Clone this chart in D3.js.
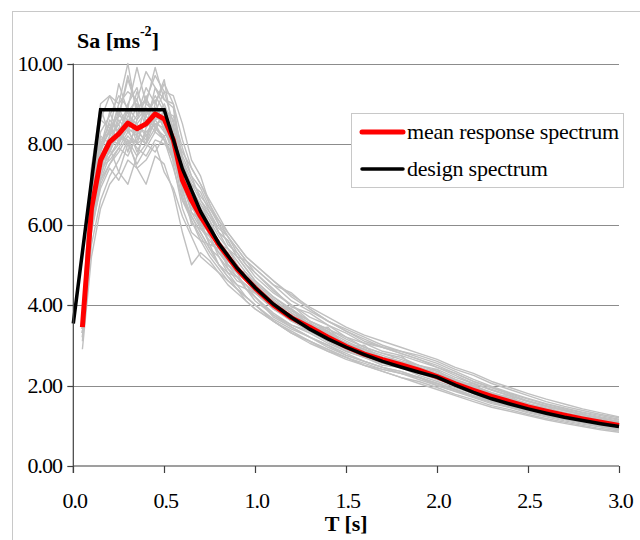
<!DOCTYPE html>

<head>
    <meta charset="utf-8">
    <script src="https://d3js.org/d3.v7.min.js"></script>
    <style>
        body {
            margin: 0;
        }

        .tick-label {
            font-size: 22px;
            letter-spacing: -1px;
        }

        .axis-title {
            font-size: 22px;
            font-weight: bold;
        }

        .legend-label {
            font-size: 22px;
            letter-spacing: -0.2px;
        }
    </style>
</head>

<body>
    <script>
        var width = 640,
            height = 540;
        var serif = "Liberation Serif";

        // periods [s] at which the records and the mean were sampled
        var periods = [0.05, 0.1, 0.15, 0.2, 0.25, 0.3, 0.35, 0.4, 0.45, 0.5, 0.55, 0.6, 0.65, 0.7, 0.75,
            0.8, 0.85, 0.9, 0.95, 1.0, 1.1, 1.2, 1.3, 1.4, 1.5, 1.6, 1.7, 1.8, 1.9, 2.0,
            2.1, 2.2, 2.3, 2.4, 2.5, 2.6, 2.7, 2.8, 2.9, 3.0];

        var meanSa = [3.45, 6.4, 7.6, 8.05, 8.25, 8.52, 8.38, 8.5, 8.75, 8.62, 8.1, 7.1, 6.6, 6.2, 5.85,
            5.5, 5.2, 4.9, 4.65, 4.42, 4.0, 3.68, 3.45, 3.2, 2.97, 2.78, 2.64, 2.52, 2.38, 2.22,
            2.04, 1.88, 1.73, 1.6, 1.47, 1.36, 1.26, 1.17, 1.09, 1.01];

        var designT = [0, 0.15, 0.5, 0.6, 0.7, 0.8, 0.9, 1.0, 1.1, 1.2, 1.3, 1.4, 1.5, 1.6, 1.7, 1.8, 1.9, 2.0,
            2.1, 2.2, 2.3, 2.4, 2.5, 2.6, 2.7, 2.8, 2.9, 3.0];
        var designSa = [3.54, 8.85, 8.85, 7.38, 6.32, 5.53, 4.92, 4.43, 4.02, 3.69, 3.40, 3.16, 2.95, 2.77, 2.60,
            2.46, 2.33, 2.21, 2.01, 1.83, 1.67, 1.54, 1.42, 1.31, 1.21, 1.13, 1.05, 0.98];

        // spectra of the individual accelerograms (grey)
        var records = [
            [3.6, 7.4, 8.6, 9.2, 8.7, 9.6, 8.9, 9.1, 9.7, 9.3, 8.5, 7.3, 6.5, 5.9, 5.7, 5.2, 4.9, 4.7, 4.4, 4.2, 3.7, 3.45, 3.2, 3.0, 2.75, 2.6, 2.45, 2.3, 2.2, 2.0, 1.85, 1.7, 1.55, 1.45, 1.32, 1.22, 1.12, 1.04, 0.97, 0.9],
            [3.3, 5.8, 7.0, 7.5, 7.9, 7.7, 8.2, 8.0, 8.4, 8.8, 8.7, 7.9, 7.2, 6.9, 6.4, 6.1, 5.7, 5.4, 5.1, 4.9, 4.5, 4.1, 3.85, 3.6, 3.35, 3.15, 2.95, 2.85, 2.7, 2.55, 2.35, 2.15, 1.98, 1.82, 1.68, 1.55, 1.44, 1.34, 1.25, 1.16],
            [3.5, 6.9, 8.9, 8.2, 9.0, 10.0, 8.7, 9.4, 9.0, 9.6, 8.2, 6.7, 6.1, 5.6, 5.5, 5.0, 4.8, 4.5, 4.4, 4.1, 3.75, 3.5, 3.3, 3.05, 2.85, 2.7, 2.5, 2.45, 2.25, 2.1, 1.95, 1.8, 1.62, 1.5, 1.4, 1.28, 1.18, 1.1, 1.02, 0.95],
            [3.2, 6.0, 7.2, 7.9, 7.3, 8.0, 7.5, 7.9, 8.3, 8.1, 7.6, 7.0, 6.8, 6.5, 6.2, 5.8, 5.6, 5.2, 5.1, 4.8, 4.4, 3.95, 3.8, 3.5, 3.3, 3.05, 2.95, 2.8, 2.65, 2.45, 2.3, 2.1, 1.95, 1.78, 1.62, 1.5, 1.4, 1.28, 1.2, 1.1],
            [3.7, 6.6, 7.8, 8.6, 8.3, 8.5, 9.3, 8.7, 9.1, 8.3, 7.9, 7.2, 6.3, 6.1, 5.5, 5.4, 5.3, 4.8, 4.4, 4.3, 4.05, 3.6, 3.55, 3.15, 3.05, 2.75, 2.7, 2.45, 2.4, 2.15, 2.05, 1.85, 1.78, 1.58, 1.5, 1.34, 1.3, 1.15, 1.12, 1.0],
            [3.4, 6.3, 7.5, 7.8, 8.4, 8.0, 8.1, 8.6, 8.3, 8.9, 8.6, 7.6, 7.1, 6.7, 6.4, 6.0, 5.5, 5.3, 5.0, 4.8, 4.35, 4.0, 3.7, 3.5, 3.2, 3.05, 2.85, 2.75, 2.6, 2.45, 2.25, 2.05, 1.9, 1.75, 1.6, 1.48, 1.38, 1.28, 1.18, 1.1],
            [3.5, 6.8, 8.1, 8.3, 9.5, 8.8, 9.1, 8.4, 9.4, 8.9, 7.5, 6.4, 5.8, 5.6, 5.2, 4.9, 4.6, 4.4, 4.2, 4.0, 3.6, 3.35, 3.1, 2.9, 2.7, 2.5, 2.4, 2.3, 2.15, 2.0, 1.86, 1.72, 1.58, 1.46, 1.35, 1.25, 1.16, 1.08, 1.0, 0.93],
            [3.3, 6.0, 7.1, 7.5, 7.8, 8.2, 7.9, 7.7, 8.1, 8.0, 7.8, 7.4, 7.0, 6.6, 6.3, 5.8, 5.6, 5.2, 4.9, 4.6, 4.2, 3.9, 3.6, 3.4, 3.15, 2.95, 2.8, 2.7, 2.5, 2.4, 2.2, 2.05, 1.88, 1.74, 1.6, 1.48, 1.37, 1.27, 1.18, 1.1],
            [3.6, 7.0, 7.9, 8.8, 8.2, 8.9, 8.2, 9.0, 9.9, 9.1, 8.9, 7.3, 6.5, 6.0, 5.5, 5.5, 4.9, 4.6, 4.5, 4.2, 3.8, 3.5, 3.35, 3.1, 2.85, 2.7, 2.55, 2.45, 2.3, 2.15, 1.98, 1.8, 1.66, 1.55, 1.42, 1.32, 1.22, 1.13, 1.05, 0.98],
            [3.4, 6.2, 7.4, 7.7, 8.1, 8.4, 7.8, 8.3, 8.5, 8.4, 8.0, 7.0, 6.5, 6.3, 5.9, 5.5, 5.2, 5.0, 4.7, 4.5, 4.1, 3.8, 3.5, 3.25, 3.05, 2.85, 2.7, 2.6, 2.45, 2.3, 2.1, 1.95, 1.8, 1.66, 1.52, 1.4, 1.3, 1.2, 1.12, 1.04],
            [3.5, 6.5, 7.7, 8.0, 8.7, 8.6, 8.5, 8.8, 8.6, 8.7, 7.8, 6.9, 6.0, 5.9, 5.7, 5.3, 5.1, 4.9, 4.6, 4.3, 3.9, 3.65, 3.5, 3.3, 3.0, 2.8, 2.6, 2.45, 2.35, 2.2, 2.0, 1.85, 1.7, 1.58, 1.45, 1.35, 1.24, 1.15, 1.08, 1.0],
            [2.9, 5.2, 6.4, 7.0, 7.3, 7.0, 7.7, 8.0, 7.8, 8.2, 8.3, 7.8, 7.4, 7.0, 6.5, 6.1, 5.8, 5.5, 5.2, 5.0, 4.6, 4.25, 3.95, 3.7, 3.45, 3.25, 3.1, 2.95, 2.8, 2.65, 2.45, 2.3, 2.1, 1.95, 1.8, 1.66, 1.54, 1.42, 1.32, 1.22],
            [3.6, 6.7, 8.0, 8.5, 8.0, 9.0, 9.4, 8.5, 8.9, 8.6, 8.1, 6.8, 6.2, 5.8, 5.4, 5.2, 4.8, 4.7, 4.4, 4.2, 3.75, 3.45, 3.2, 3.0, 2.8, 2.6, 2.45, 2.35, 2.2, 2.05, 1.9, 1.74, 1.6, 1.48, 1.36, 1.26, 1.16, 1.08, 1.0, 0.92],
            [3.4, 6.4, 7.6, 8.1, 8.5, 7.8, 8.6, 9.2, 8.4, 8.1, 7.7, 7.1, 6.8, 6.4, 6.0, 5.5, 5.3, 4.9, 4.7, 4.5, 4.05, 3.9, 3.5, 3.35, 3.0, 2.9, 2.65, 2.6, 2.4, 2.3, 2.05, 1.95, 1.75, 1.65, 1.5, 1.42, 1.3, 1.22, 1.12, 1.05],
            [3.5, 6.6, 7.3, 8.2, 8.8, 8.3, 8.4, 8.0, 9.0, 9.5, 9.0, 7.6, 6.9, 6.3, 5.9, 5.5, 5.1, 4.8, 4.6, 4.4, 4.0, 3.7, 3.4, 3.2, 3.0, 2.8, 2.65, 2.5, 2.35, 2.2, 2.05, 1.88, 1.72, 1.6, 1.46, 1.35, 1.25, 1.16, 1.08, 1.0],
            [3.3, 6.1, 7.4, 7.6, 7.9, 8.3, 8.0, 8.2, 8.5, 8.1, 7.4, 6.6, 6.2, 5.8, 5.4, 5.0, 4.7, 4.4, 4.1, 3.9, 3.6, 3.3, 3.05, 2.85, 2.65, 2.5, 2.35, 2.2, 2.05, 1.9, 1.75, 1.6, 1.46, 1.36, 1.25, 1.15, 1.06, 0.98, 0.9, 0.84],
            [3.6, 7.1, 8.6, 8.4, 8.7, 9.7, 8.9, 8.7, 9.2, 8.8, 8.2, 7.0, 6.3, 5.9, 5.6, 5.3, 5.0, 4.7, 4.5, 4.3, 3.9, 3.6, 3.35, 3.1, 2.9, 2.7, 2.6, 2.5, 2.4, 2.25, 2.1, 1.9, 1.75, 1.6, 1.48, 1.36, 1.26, 1.16, 1.08, 1.0],
            [3.4, 6.0, 7.2, 7.9, 8.2, 8.1, 7.7, 8.4, 8.7, 8.5, 8.3, 7.4, 6.9, 6.5, 6.1, 5.7, 5.4, 5.1, 4.8, 4.55, 4.15, 3.8, 3.55, 3.3, 3.05, 2.85, 2.7, 2.6, 2.45, 2.3, 2.12, 1.95, 1.8, 1.66, 1.52, 1.4, 1.3, 1.2, 1.12, 1.04],
            [3.2, 5.9, 6.9, 7.4, 7.1, 7.6, 7.4, 7.0, 7.7, 7.5, 6.8, 5.8, 5.0, 5.3, 5.1, 4.8, 4.5, 4.3, 4.1, 3.9, 3.6, 3.3, 3.1, 2.9, 2.7, 2.55, 2.4, 2.3, 2.2, 2.05, 1.9, 1.75, 1.62, 1.5, 1.38, 1.28, 1.18, 1.1, 1.02, 0.95],
            [3.7, 7.4, 9.0, 9.2, 9.0, 9.3, 9.1, 9.8, 9.4, 9.1, 9.0, 8.1, 7.4, 7.0, 6.6, 6.2, 5.8, 5.5, 5.2, 5.0, 4.6, 4.2, 3.9, 3.6, 3.35, 3.1, 2.95, 2.8, 2.65, 2.5, 2.3, 2.1, 1.95, 1.8, 1.66, 1.53, 1.42, 1.32, 1.22, 1.14],
            [3.5, 6.7, 7.9, 8.3, 8.9, 8.4, 8.7, 9.1, 8.8, 8.5, 7.8, 6.9, 6.6, 6.0, 5.8, 5.6, 5.1, 5.0, 4.6, 4.5, 3.9, 3.9, 3.4, 3.45, 2.95, 3.0, 2.6, 2.75, 2.35, 2.4, 2.0, 2.05, 1.7, 1.75, 1.45, 1.5, 1.25, 1.3, 1.07, 1.1],
            [3.1, 5.5, 6.6, 7.2, 7.6, 8.1, 7.4, 7.6, 8.0, 7.3, 6.9, 6.2, 5.7, 5.2, 5.0, 4.8, 4.6, 4.4, 4.2, 4.0, 3.65, 3.4, 3.2, 2.95, 2.75, 2.6, 2.45, 2.35, 2.2, 2.05, 1.9, 1.72, 1.6, 1.48, 1.36, 1.25, 1.16, 1.08, 1.0, 0.93],
            [3.6, 6.9, 8.3, 8.7, 9.2, 8.9, 9.9, 9.0, 8.8, 9.3, 9.2, 8.5, 7.6, 7.2, 6.5, 6.0, 5.7, 5.3, 5.0, 4.7, 4.3, 4.0, 3.6, 3.4, 3.2, 2.95, 2.8, 2.65, 2.5, 2.35, 2.15, 2.0, 1.82, 1.7, 1.55, 1.44, 1.33, 1.24, 1.15, 1.07],
            [3.4, 6.2, 7.7, 8.1, 8.0, 8.6, 8.3, 8.1, 8.9, 8.5, 7.9, 7.3, 6.7, 6.4, 6.1, 5.5, 5.4, 5.0, 4.6, 4.4, 4.1, 3.7, 3.55, 3.3, 3.05, 2.9, 2.7, 2.55, 2.45, 2.3, 2.1, 1.9, 1.8, 1.62, 1.5, 1.38, 1.3, 1.18, 1.12, 1.03],
            [3.5, 6.4, 7.5, 7.8, 8.3, 8.8, 8.0, 8.7, 8.4, 8.2, 7.6, 6.9, 6.6, 6.0, 5.9, 5.4, 5.0, 4.8, 4.6, 4.4, 3.95, 3.6, 3.45, 3.2, 2.95, 2.75, 2.65, 2.5, 2.35, 2.2, 2.02, 1.88, 1.72, 1.6, 1.46, 1.36, 1.26, 1.17, 1.09, 1.01],
            [3.3, 6.0, 7.1, 7.7, 8.0, 8.4, 8.2, 8.0, 8.6, 8.3, 8.1, 7.5, 7.0, 6.8, 6.3, 5.9, 5.7, 5.4, 5.1, 4.9, 4.5, 4.3, 3.9, 3.6, 3.4, 3.2, 3.0, 2.85, 2.75, 2.6, 2.4, 2.25, 2.05, 1.9, 1.75, 1.6, 1.48, 1.38, 1.28, 1.2],
            [3.6, 6.8, 8.2, 8.0, 8.6, 8.3, 9.0, 8.6, 8.6, 9.0, 8.4, 7.0, 6.4, 6.2, 5.7, 5.6, 5.0, 4.8, 4.7, 4.3, 3.95, 3.75, 3.35, 3.2, 2.9, 2.75, 2.55, 2.5, 2.3, 2.2, 1.98, 1.85, 1.68, 1.57, 1.42, 1.33, 1.22, 1.15, 1.05, 0.99],
            [3.4, 6.5, 7.8, 8.4, 8.1, 8.7, 8.5, 8.2, 8.7, 8.6, 8.3, 7.2, 6.7, 6.2, 5.9, 5.6, 5.3, 4.9, 4.8, 4.5, 4.0, 3.75, 3.5, 3.2, 3.0, 2.8, 2.7, 2.55, 2.4, 2.25, 2.08, 1.9, 1.76, 1.62, 1.5, 1.38, 1.28, 1.19, 1.11, 1.03],
            [3.5, 6.6, 7.7, 8.2, 8.5, 8.9, 8.6, 8.9, 8.8, 8.4, 7.7, 6.6, 6.1, 5.7, 5.3, 5.0, 4.7, 4.5, 4.2, 4.0, 3.6, 3.3, 3.1, 2.85, 2.7, 2.5, 2.35, 2.2, 2.1, 1.95, 1.78, 1.65, 1.5, 1.4, 1.28, 1.18, 1.09, 1.01, 0.93, 0.87],
            [3.3, 6.3, 7.4, 8.0, 8.2, 8.0, 8.4, 8.3, 8.5, 8.6, 8.4, 7.7, 7.2, 6.6, 6.2, 5.8, 5.4, 5.2, 4.9, 4.6, 4.2, 3.85, 3.6, 3.35, 3.1, 2.9, 2.75, 2.6, 2.5, 2.35, 2.15, 1.98, 1.82, 1.68, 1.55, 1.43, 1.32, 1.22, 1.14, 1.06]
        ];

        var xTicks = [0, 0.5, 1.0, 1.5, 2.0, 2.5, 3.0];
        var yTicks = [0, 2, 4, 6, 8, 10];

        var legendLabels = ["mean response spectrum", "design spectrum"];

        var x = d3.scaleLinear().domain([0, 3]).range([73.3, 619]);
        var y = d3.scaleLinear().domain([0, 10]).range([466, 63.5]);

        var svg = d3.select("body").append("svg")
            .attr("width", width)
            .attr("height", height)
            .attr("font-family", serif);

        // outer chart frame (runs off the right and bottom)
        svg.append("rect")
            .attr("x", 12.5)
            .attr("y", 11.5)
            .attr("width", 700)
            .attr("height", 600)
            .attr("fill", "#fff")
            .attr("stroke", "#c8c8c8")
            .attr("stroke-width", 1);

        // horizontal gridlines
        svg.append("g")
            .selectAll("line")
            .data(yTicks.filter(function(d) { return d > 0; }))
            .enter().append("line")
            .attr("x1", x(0))
            .attr("x2", x(3))
            .attr("y1", function(d) { return Math.round(y(d)) + 0.5; })
            .attr("y2", function(d) { return Math.round(y(d)) + 0.5; })
            .attr("stroke", "#8c8c8c")
            .attr("stroke-width", 1);

        var line = d3.line()
            .x(function(d) { return x(d[0]); })
            .y(function(d) { return y(d[1]); });

        svg.append("g")
            .selectAll("path")
            .data(records)
            .enter().append("path")
            .attr("fill", "none")
            .attr("stroke", "#c0c0c0")
            .attr("stroke-width", 1.4)
            .attr("stroke-linejoin", "round")
            .attr("d", function(r) {
                return line(r.map(function(v, i) { return [periods[i], v]; }));
            });

        svg.append("path")
            .attr("fill", "none")
            .attr("stroke", "#ff0000")
            .attr("stroke-width", 5)
            .attr("stroke-linejoin", "round")
            .attr("d", line(meanSa.map(function(v, i) { return [periods[i], v]; })));

        svg.append("path")
            .attr("fill", "none")
            .attr("stroke", "#000")
            .attr("stroke-width", 3.5)
            .attr("d", line(designSa.map(function(v, i) { return [designT[i], v]; })));

        // axes
        var axisColor = "#404040";
        var yAxis = svg.append("g");
        yAxis.append("line")
            .attr("x1", x(0)).attr("x2", x(0))
            .attr("y1", y(10)).attr("y2", y(0) + 7)
            .attr("stroke", axisColor).attr("stroke-width", 1.2);
        yAxis.selectAll(".ytick")
            .data(yTicks)
            .enter().append("line")
            .attr("x1", x(0) - 6).attr("x2", x(0))
            .attr("y1", function(d) { return Math.round(y(d)) + 0.5; })
            .attr("y2", function(d) { return Math.round(y(d)) + 0.5; })
            .attr("stroke", axisColor).attr("stroke-width", 1.2);
        yAxis.selectAll("text")
            .data(yTicks)
            .enter().append("text")
            .attr("class", "tick-label")
            .attr("font-family", serif)
            .attr("x", 62)
            .attr("y", function(d) { return y(d); })
            .attr("dy", "0.34em")
            .attr("text-anchor", "end")
            .text(function(d) { return d.toFixed(2); });

        var xAxis = svg.append("g");
        xAxis.append("line")
            .attr("x1", x(0)).attr("x2", x(3))
            .attr("y1", y(0)).attr("y2", y(0))
            .attr("stroke", axisColor).attr("stroke-width", 1.2);
        xAxis.selectAll(".xtick")
            .data(xTicks)
            .enter().append("line")
            .attr("x1", function(d) { return Math.round(x(d)) + 0.5; })
            .attr("x2", function(d) { return Math.round(x(d)) + 0.5; })
            .attr("y1", y(0)).attr("y2", y(0) + 7)
            .attr("stroke", axisColor).attr("stroke-width", 1.2);
        xAxis.selectAll("text")
            .data(xTicks)
            .enter().append("text")
            .attr("class", "tick-label")
            .attr("font-family", serif)
            .attr("x", function(d) { return x(d) + 1.5; })
            .attr("y", 508)
            .attr("text-anchor", "middle")
            .text(function(d) { return d.toFixed(1); });

        // axis titles
        var yTitle = svg.append("text")
            .attr("class", "axis-title")
            .attr("font-family", serif)
            .attr("x", 77)
            .attr("y", 48);
        yTitle.append("tspan").text("Sa [ms");
        yTitle.append("tspan")
            .attr("dy", -12)
            .attr("font-size", 14)
            .text("-2");
        yTitle.append("tspan")
            .attr("dy", 12)
            .text("]");

        svg.append("text")
            .attr("class", "axis-title")
            .attr("font-family", serif)
            .attr("x", (x(0) + x(3)) / 2)
            .attr("y", 531)
            .attr("text-anchor", "middle")
            .text("T [s]");

        // legend
        var legend = svg.append("g");

        legend.append("rect")
            .attr("x", 351.5)
            .attr("y", 113.5)
            .attr("width", 272)
            .attr("height", 74)
            .attr("fill", "#fff")
            .attr("stroke", "#c8c8c8");

        var legendColors = ["#ff0000", "#000"];
        var legendWidths = [5, 3.5];
        var legendY = [132, 169];

        legend.selectAll(".sample")
            .data(legendLabels)
            .enter().append("line")
            .attr("x1", 362)
            .attr("x2", 403)
            .attr("y1", function(d, i) { return legendY[i]; })
            .attr("y2", function(d, i) { return legendY[i]; })
            .attr("stroke", function(d, i) { return legendColors[i]; })
            .attr("stroke-width", function(d, i) { return legendWidths[i]; })
            .attr("stroke-linecap", "round");

        legend.selectAll("text")
            .data(legendLabels)
            .enter().append("text")
            .attr("class", "legend-label")
            .attr("font-family", serif)
            .attr("x", 407)
            .attr("y", function(d, i) { return legendY[i] + 7; })
            .text(function(d) { return d; });
    </script>
</body>
